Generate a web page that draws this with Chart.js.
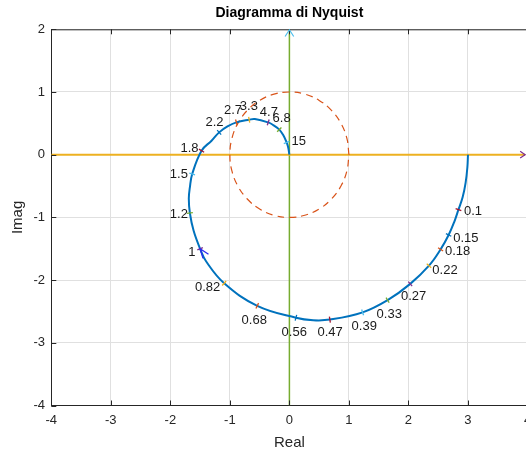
<!DOCTYPE html>
<html>
<head>
<meta charset="utf-8">
<script src="https://cdn.jsdelivr.net/npm/chart.js@4.4.1/dist/chart.umd.min.js"></script>
<style>
    html, body { margin: 0; padding: 0; overflow: hidden; background: #fff; }
</style>
</head>
<body>
<canvas id="nyquist" width="540" height="454"></canvas>
<script>
// Nyquist curve (Re, Im)
const curveRe = [3.00, 2.99, 2.96, 2.91, 2.84, 2.77, 2.675, 2.54, 2.345, 2.03, 1.65, 1.23, 0.68, 0.40, 0.11,
    -0.54, -1.096, -1.40, -1.50, -1.61, -1.672, -1.69, -1.672, -1.633, -1.476, -1.308, -1.18, -1.04, -0.89, -0.676,
    -0.58, -0.356, -0.272, -0.17, -0.104, -0.047, -0.02, 0.00];
const curveIm = [0.00, -0.20, -0.45, -0.68, -0.877, -1.07, -1.28, -1.51, -1.77, -2.06, -2.32, -2.515, -2.63, -2.64, -2.60,
    -2.41, -2.05, -1.70, -1.50, -1.21, -0.93, -0.70, -0.52, -0.308, 0.064, 0.223, 0.356, 0.45, 0.515, 0.558,
    0.569, 0.515, 0.473, 0.40, 0.314, 0.196, 0.116, 0.00];

// frequency marks along the curve
const freqLabels = ["0.1", "0.15", "0.18", "0.22", "0.27", "0.33", "0.39", "0.47", "0.56", "0.68", "0.82",
    "1", "1.2", "1.5", "1.8", "2.2", "2.7", "3.3", "4.7", "6.8", "15"];
const freqRe = [2.84, 2.675, 2.54, 2.345, 2.03, 1.65, 1.23, 0.68, 0.11, -0.54, -1.096,
    -1.50, -1.672, -1.633, -1.476, -1.18, -0.89, -0.676, -0.356, -0.17, -0.047];
const freqIm = [-0.877, -1.28, -1.51, -1.77, -2.06, -2.32, -2.515, -2.63, -2.60, -2.41, -2.05,
    -1.50, -0.93, -0.308, 0.064, 0.356, 0.515, 0.558, 0.515, 0.40, 0.196];

// unit circle (dashed)
const circleRe = [1, 0.966, 0.866, 0.707, 0.5, 0.259, 0, -0.259, -0.5, -0.707, -0.866, -0.966, -1,
    -0.966, -0.866, -0.707, -0.5, -0.259, 0, 0.259, 0.5, 0.707, 0.866, 0.966, 1];
const circleIm = [0, 0.259, 0.5, 0.707, 0.866, 0.966, 1, 0.966, 0.866, 0.707, 0.5, 0.259, 0,
    -0.259, -0.5, -0.707, -0.866, -0.966, -1, -0.966, -0.866, -0.707, -0.5, -0.259, 0];

const xTicks = [-4, -3, -2, -1, 0, 1, 2, 3, 4];
const yTicks = [-4, -3, -2, -1, 0, 1, 2];

// layout of the frequency labels (pixel offset of text centre from the mark)
const labelOffsets = [[14.6, 2], [17.3, 3.4], [17, 2.3], [16, 4.3], [3.4, 12.7], [1.6, 14], [1.6, 13.6],
    [0.3, 13.3], [-1.7, 15], [-3, 15], [-16.6, 4], [-8.3, 3.4], [-11, 1.7], [-13.3, 0], [-12, -2.7],
    [-4.6, -10], [-3.4, -11.7], [-0.3, -13.3], [0.7, -10], [2.3, -11.2], [12.2, -1]];
const markColors = ['#A2142F', '#0072BD', '#D95319', '#EDB120', '#7E2F8E', '#77AC30', '#4DBEEE'];
const textColor = '#262626';

Chart.defaults.font.family = "'Liberation Sans', Arial, sans-serif";

const toPoints = (xs, ys) => xs.map((v, i) => ({ x: v, y: ys[i] }));

const drawArrow = (ctx, tx, ty, dx, dy, len, spread, color) => {
    const ang = Math.atan2(dy, dx);
    ctx.strokeStyle = color;
    ctx.beginPath();
    ctx.moveTo(tx - len * Math.cos(ang - spread), ty - len * Math.sin(ang - spread));
    ctx.lineTo(tx, ty);
    ctx.lineTo(tx - len * Math.cos(ang + spread), ty - len * Math.sin(ang + spread));
    ctx.stroke();
};

const overlay = {
    id: 'overlay',
    afterDatasetsDraw(chart) {
        const { ctx, chartArea: a, scales: { x, y } } = chart;
        ctx.save();

        // box top and inward ticks
        ctx.strokeStyle = textColor;
        ctx.lineWidth = 1;
        ctx.beginPath();
        ctx.moveTo(a.left, a.top + 0.5);
        ctx.lineTo(a.right, a.top + 0.5);
        xTicks.forEach(t => {
            const px = Math.round(x.getPixelForValue(t)) + 0.5;
            ctx.moveTo(px, a.bottom);
            ctx.lineTo(px, a.bottom - 5);
            ctx.moveTo(px, a.top);
            ctx.lineTo(px, a.top + 5);
        });
        yTicks.forEach(t => {
            const py = Math.round(y.getPixelForValue(t)) + 0.5;
            ctx.moveTo(a.left, py);
            ctx.lineTo(a.left + 5, py);
        });
        ctx.stroke();

        // axis arrows
        ctx.lineWidth = 1.2;
        drawArrow(ctx, x.getPixelForValue(3.96), y.getPixelForValue(0), 1, 0, 6, 0.6, '#7E2F8E');
        drawArrow(ctx, x.getPixelForValue(0), y.getPixelForValue(2) + 0.5, 0, -1, 8, 0.57, '#4DBEEE');

        // frequency marks and labels
        const cx = curveRe.map(v => x.getPixelForValue(v));
        const cy = curveIm.map(v => y.getPixelForValue(v));
        ctx.font = "13px 'Liberation Sans', Arial, sans-serif";
        ctx.textAlign = 'center';
        ctx.textBaseline = 'middle';
        freqLabels.forEach((lab, i) => {
            const px = x.getPixelForValue(freqRe[i]);
            const py = y.getPixelForValue(freqIm[i]);
            let k = 0, best = Infinity;
            cx.forEach((v, j) => {
                const d = (v - px) ** 2 + (cy[j] - py) ** 2;
                if (d < best) { best = d; k = j; }
            });
            const k0 = Math.max(k - 1, 0), k1 = Math.min(k + 1, cx.length - 1);
            const tx = cx[k1] - cx[k0], ty = cy[k1] - cy[k0];
            const n = Math.hypot(tx, ty) || 1;
            const nx = -ty / n * 3, ny = tx / n * 3;
            ctx.strokeStyle = markColors[i % markColors.length];
            ctx.lineWidth = 1.3;
            ctx.beginPath();
            ctx.moveTo(px - nx, py - ny);
            ctx.lineTo(px + nx, py + ny);
            ctx.stroke();
            if (lab === "1") {
                ctx.lineWidth = 1.3;
                drawArrow(ctx, px, py, -0.6, -0.8, 10, 0.35, '#2a2af0');
            }
            ctx.fillStyle = '#1a1a1a';
            ctx.fillText(lab, px + labelOffsets[i][0], py + labelOffsets[i][1]);
        });
        ctx.restore();
    }
};

new Chart(document.getElementById('nyquist'), {
    type: 'scatter',
    data: {
        datasets: [
            { data: toPoints(curveRe, curveIm), showLine: true, borderColor: '#0072BD', borderWidth: 2,
              tension: 0.4, pointRadius: 0, order: 0 },
            { data: toPoints(circleRe, circleIm), showLine: true, borderColor: '#D95319', borderWidth: 1.2,
              borderDash: [7, 5], tension: 0.4, pointRadius: 0, order: 1 },
            { data: [{ x: -4, y: 0 }, { x: 3.96, y: 0 }], showLine: true, borderColor: '#EDB120', borderWidth: 2,
              pointRadius: 0, order: 2 },
            { data: [{ x: 0, y: -4 }, { x: 0, y: 2 }], showLine: true, borderColor: '#77AC30', borderWidth: 1.5,
              pointRadius: 0, order: 3 }
        ]
    },
    options: {
        responsive: false,
        animation: false,
        layout: { padding: { left: 0, right: 12.5, top: 0, bottom: 0 } },
        plugins: {
            legend: { display: false },
            tooltip: { enabled: false },
            title: {
                display: true,
                fullSize: false,
                text: 'Diagramma di Nyquist',
                color: '#000',
                font: { size: 14, weight: 'bold' },
                padding: { top: 5, bottom: 7.5 }
            }
        },
        scales: {
            x: {
                type: 'linear',
                min: -4,
                max: 4,
                afterBuildTicks: (s) => { s.ticks = xTicks.map(v => ({ value: v })); },
                afterFit: (s) => { s.height = 48.5; },
                ticks: { color: textColor, font: { size: 13 }, padding: 7, maxRotation: 0 },
                grid: { color: '#e0e0e0', drawTicks: false },
                border: { color: textColor, width: 1 },
                title: { display: true, text: 'Real', color: textColor, font: { size: 15 }, padding: { top: 0, bottom: 2 } }
            },
            y: {
                type: 'linear',
                min: -4,
                max: 2,
                afterBuildTicks: (s) => { s.ticks = yTicks.map(v => ({ value: v })); },
                afterFit: (s) => { s.width = 51.3; },
                ticks: { color: textColor, font: { size: 13 }, padding: 6.3 },
                grid: { color: '#e0e0e0', drawTicks: false },
                border: { color: textColor, width: 1 },
                title: { display: true, text: 'Imag', color: textColor, font: { size: 15 }, padding: { top: 9, bottom: 0 } }
            }
        }
    },
    plugins: [overlay]
});
</script>
</body>
</html>
